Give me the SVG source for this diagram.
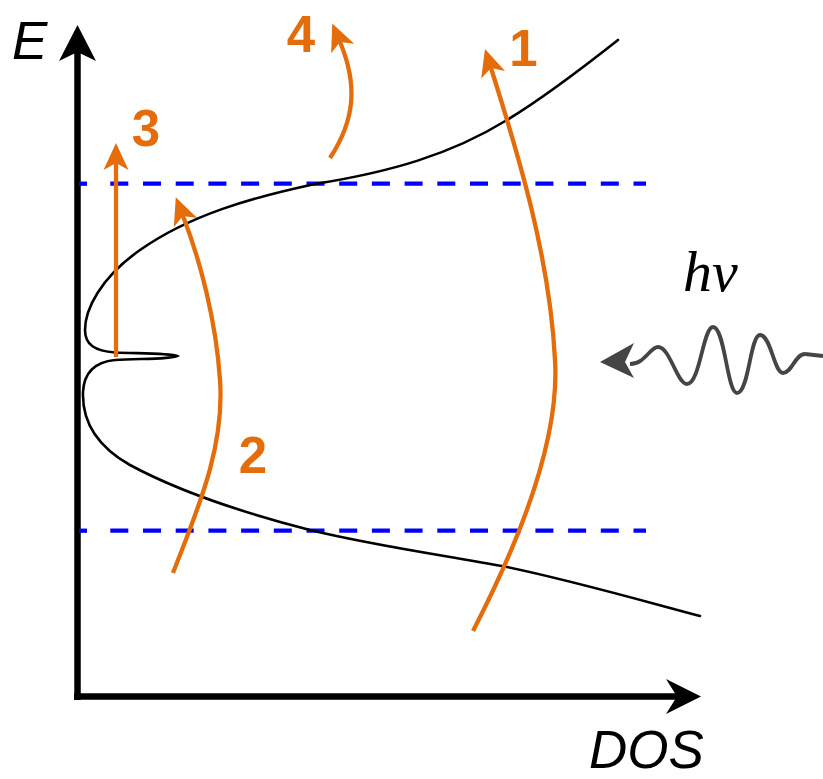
<svg xmlns="http://www.w3.org/2000/svg" width="823" height="779" viewBox="0 0 823 779">
<style>
.axis{stroke:#000;stroke-width:6.5;fill:none}
.dash{stroke:#0000ff;stroke-width:4.3;fill:none}
.dashed{stroke-dasharray:18 14.7}
.dos{stroke:#000;stroke-width:2.6;fill:none;stroke-linecap:round}
.orange{stroke:#e46c0a;stroke-width:4.3;fill:none}
.num{font-family:"Liberation Sans",Arial,sans-serif;font-weight:bold;font-size:51px;fill:#e46c0a;text-anchor:middle}
.lab{font-family:"Liberation Sans",Arial,sans-serif;font-style:italic;font-size:53px;fill:#000}
</style>
<defs>
<marker id="oa" markerUnits="userSpaceOnUse" orient="auto" refX="0" refY="0" overflow="visible" markerWidth="1" markerHeight="1">
<path d="M20,0 L-7,-12.5 L0,0 L-7,12.5 Z" fill="#e46c0a"/>
</marker>
<filter id="blur" x="-10%" y="-20%" width="120%" height="140%"><feGaussianBlur stdDeviation="0.7"/></filter>
</defs>
<g id="axes">
<line class="axis" x1="77.5" y1="700" x2="77.5" y2="50"/>
<path d="M77.5,25 L96,61 L77.5,52 L59,61 Z" fill="#000"/>
<line class="axis" x1="74" y1="696.5" x2="679" y2="696.5"/>
<path d="M701,696.5 L666,679 L677,696.5 L666,714 Z" fill="#000"/>
<text class="lab" x="12" y="59">E</text>
<text class="lab" x="589" y="768" font-size="51">DOS</text>
</g>
<g id="levels">
<line class="dash" x1="79" y1="183.7" x2="87" y2="183.7"/>
<line class="dash dashed" x1="110.3" y1="183.7" x2="646" y2="183.7"/>
<line class="dash" x1="79" y1="530.7" x2="87" y2="530.7"/>
<line class="dash dashed" x1="110.3" y1="530.7" x2="646" y2="530.7"/>
</g>
<g id="dos-curve">
<path class="dos" d="M618,40 C580,70 545,97 507,120 C450,155 390,172 315,184 C250,198 190,215 140,250 C100,278 85,310 85,330 C85,345 95,351 115,352.5 C140,353.5 170,353 177,356 C170,359.5 140,358.5 115,360 C95,362 84,372 83,392 C82,420 95,445 130,465 C180,492 240,512 310,530 C380,547 450,556 507,567 C570,580 640,600 700,616"/>
</g>
<g id="connectors">
<path id="arrow1" class="orange" marker-end="url(#oa)" d="M473,631 C520,540 560,440 555,360 C550,260 520,160 491,68"/>
<path id="arrow2" class="orange" marker-end="url(#oa)" d="M173,573 C195,515 225,450 220,380 C216,320 200,260 183,216"/>
<path id="arrow3" class="orange" marker-end="url(#oa)" d="M116,357 L116,163"/>
<path id="arrow4" class="orange" marker-end="url(#oa)" d="M330,158 C355,120 358,85 340,42"/>
</g>
<g id="labels">
<text class="num" x="523.5" y="66">1</text>
<text class="num" x="253" y="473">2</text>
<text class="num" x="146" y="146">3</text>
<text class="num" x="301" y="52">4</text>
</g>
<g id="photon" filter="url(#blur)">
<path d="M805,354 C795,354 792,373 783,373 C774,373 771,335 760,335 C750,335 749,393 737,393 C727,393 725,327 713,327 C703,327 700,384 687,384 C677,384 670,347 658,347 C650,347 645,364 630,364" fill="none" stroke="#444" stroke-width="3.8"/>
<path d="M823,356 L805,354" fill="none" stroke="#444" stroke-width="3.8"/>
<path d="M600,362 L634,343 L625,362 L634,378 Z" fill="#444"/>
<text x="683" y="291" font-family="'Liberation Serif','Times New Roman',serif" font-style="italic" font-size="58" fill="#000">hν</text>
</g>
</svg>
